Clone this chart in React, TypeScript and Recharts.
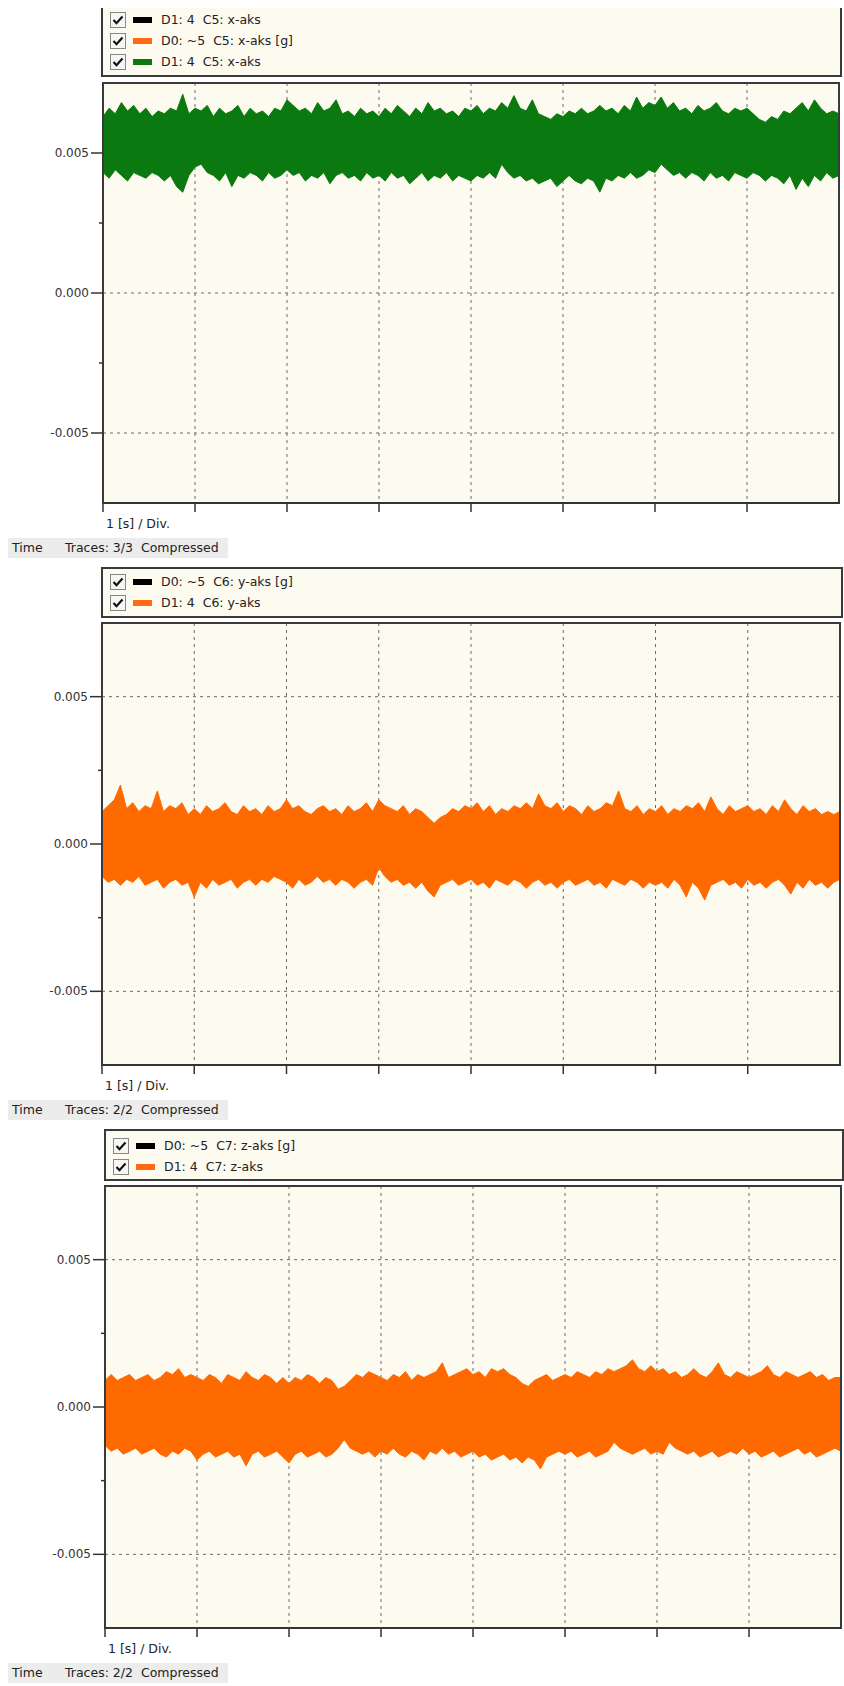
import React from "react"
import {
  Area,
  CartesianGrid,
  ComposedChart,
  ReferenceArea,
  XAxis,
  YAxis,
} from "recharts"

// 8 divisions of 1 s, compressed trace kept as a min/max envelope, 15 buckets per division
const SAMPLES_PER_DIV = 15
const X_TICKS = [0, 1, 2, 3, 4, 5, 6, 7]
const Y_TICKS = [-5, -2.5, 0, 2.5, 5] // mg
const Y_GRID = [-5, 0, 5]

// x-aks (mg)
const xHi = [
  6.3, 6.6, 6.4, 6.8, 6.5, 6.7, 6.4, 6.6, 6.3, 6.5, 6.4, 6.6, 6.5, 7.1, 6.4,
  6.6, 6.5, 6.7, 6.3, 6.6, 6.4, 6.5, 6.7, 6.3, 6.6, 6.4, 6.5, 6.3, 6.6, 6.5,
  6.9, 6.7, 6.5, 6.6, 6.4, 6.8, 6.5, 6.6, 6.9, 6.4, 6.5, 6.3, 6.6, 6.4, 6.5,
  6.3, 6.6, 6.4, 6.7, 6.5, 6.3, 6.6, 6.4, 6.8, 6.5, 6.6, 6.4, 6.5, 6.3, 6.6,
  6.5, 6.7, 6.4, 6.6, 6.5, 6.8, 6.6, 7.05, 6.6, 6.5, 6.9, 6.4, 6.3, 6.2, 6.4,
  6.3, 6.5, 6.4, 6.6, 6.4, 6.5, 6.7, 6.5, 6.6, 6.4, 6.7, 6.5, 7.0, 6.6, 6.8,
  6.7, 7.0, 6.6, 6.8, 6.5, 6.6, 6.4, 6.7, 6.5, 6.6, 6.8, 6.5, 6.4, 6.6, 6.5,
  6.6, 6.4, 6.2, 6.1, 6.3, 6.2, 6.5, 6.4, 6.6, 6.8, 6.5, 6.9, 6.6, 6.4, 6.5,
  6.4,
]
const xLo = [
  4.3, 4.1, 4.4, 4.2, 4.0, 4.3, 4.2, 4.1, 4.3, 4.2, 4.0, 4.2, 3.8, 3.6, 4.2,
  4.5, 4.6, 4.3, 4.2, 4.0, 4.3, 3.8, 4.2, 4.1, 4.3, 4.2, 4.0, 4.3, 4.1, 4.2,
  4.4, 4.2, 4.3, 4.0, 4.2, 4.1, 4.3, 3.9, 4.2, 4.3, 4.1, 4.2, 4.0, 4.3, 4.1,
  4.2, 4.0, 4.3, 4.1, 4.2, 3.9, 4.1, 4.3, 4.0, 4.2, 4.1, 4.3, 4.0, 4.2, 4.1,
  4.0, 4.2, 4.1, 4.3, 4.1, 4.6, 4.3, 4.1, 4.2, 4.0, 4.1, 3.9, 4.0, 4.1, 3.8,
  4.0, 4.2, 4.0, 3.9, 4.1, 4.0, 3.6, 4.1, 4.0, 4.2, 4.1, 4.3, 4.1, 4.2, 4.4,
  4.3, 4.6, 4.4, 4.2, 4.3, 4.1, 4.3, 4.2, 4.0, 4.3, 4.1, 4.2, 4.0, 4.3, 4.2,
  4.1, 4.3, 4.2, 4.0, 4.2, 4.1, 3.9, 4.2, 3.7, 4.1, 3.8, 4.2, 4.0, 4.3, 4.1,
  4.2,
]

// y-aks (mg)
const yHi = [
  1.1, 1.3, 1.5, 2.0, 1.2, 1.4, 1.1, 1.3, 1.2, 1.8, 1.1, 1.3, 1.2, 1.4, 1.0,
  1.2, 1.0, 1.3, 1.1, 1.2, 1.4, 1.1, 1.0, 1.3, 1.1, 1.2, 1.0, 1.3, 1.1, 1.2,
  1.5, 1.2, 1.3, 1.1, 1.0, 1.2, 1.3, 1.1, 1.2, 1.0, 1.3, 1.1, 1.2, 1.4, 1.1,
  1.5, 1.3, 1.2, 1.1, 1.3, 1.0, 1.2, 1.1, 0.9, 0.7, 0.9, 1.0, 1.2, 1.1, 1.3,
  1.2, 1.4, 1.1, 1.3, 1.0, 1.2, 1.1, 1.3, 1.2, 1.4, 1.2, 1.7, 1.3, 1.2, 1.4,
  1.1, 1.3, 1.2, 1.0, 1.3, 1.1, 1.2, 1.4, 1.3, 1.8, 1.2, 1.1, 1.3, 1.0, 1.2,
  1.1, 1.3, 1.0, 1.2, 1.1, 1.3, 1.2, 1.4, 1.1, 1.6, 1.2, 1.0, 1.3, 1.1, 1.2,
  1.3, 1.1, 1.2, 1.0, 1.3, 1.1, 1.5, 1.2, 1.0, 1.3, 1.1, 1.2, 1.0, 1.1, 1.0,
  1.1,
]
const yLo = [
  -1.1, -1.3, -1.2, -1.4, -1.2, -1.3, -1.1, -1.4, -1.3, -1.2, -1.5, -1.3, -1.2, -1.4, -1.3,
  -1.8, -1.3, -1.5, -1.2, -1.4, -1.3, -1.2, -1.5, -1.3, -1.2, -1.4, -1.2, -1.3, -1.1, -1.2,
  -1.3, -1.5, -1.2, -1.4, -1.3, -1.1, -1.3, -1.2, -1.4, -1.2, -1.3, -1.5, -1.3, -1.2, -1.4,
  -0.8, -1.1, -1.3, -1.2, -1.4, -1.3, -1.5, -1.3, -1.6, -1.8, -1.4, -1.3, -1.2, -1.4, -1.3,
  -1.2, -1.4, -1.3, -1.5, -1.2, -1.3, -1.4, -1.2, -1.3, -1.5, -1.3, -1.2, -1.4, -1.3, -1.5,
  -1.3, -1.2, -1.4, -1.3, -1.2, -1.4, -1.3, -1.5, -1.2, -1.3, -1.4, -1.2, -1.3, -1.5, -1.3,
  -1.4, -1.3, -1.5, -1.2, -1.4, -1.8, -1.3, -1.5, -1.9, -1.4, -1.3, -1.2, -1.4, -1.3, -1.5,
  -1.2, -1.4, -1.3, -1.5, -1.3, -1.2, -1.4, -1.7, -1.3, -1.5, -1.2, -1.4, -1.3, -1.5, -1.3,
  -1.2,
]

// z-aks (mg)
const zHi = [
  0.9, 1.1, 0.9, 1.0, 1.1, 0.9, 1.0, 1.1, 0.9, 1.0, 1.2, 1.1, 1.3, 1.0, 1.1,
  1.0, 0.9, 1.1, 1.0, 0.8, 1.1, 1.0, 0.9, 1.2, 1.0, 0.9, 1.1, 1.0, 0.8, 1.0,
  0.8, 1.0, 0.9, 1.1, 1.0, 0.8, 1.0, 0.9, 0.6, 0.7, 0.9, 1.1, 1.0, 1.2, 1.1,
  1.0, 0.9, 1.1, 1.0, 1.2, 0.9, 1.1, 1.0, 1.1, 1.2, 1.5, 1.0, 1.1, 1.2, 1.3,
  1.1, 1.2, 1.0, 1.3, 1.2, 1.3, 1.1, 1.0, 0.8, 0.7, 0.9, 1.0, 1.1, 0.9, 1.0,
  1.1, 1.0, 1.2, 1.1, 1.0, 1.2, 1.1, 1.3, 1.2, 1.3, 1.4, 1.6, 1.3, 1.2, 1.4,
  1.2, 1.3, 1.1, 1.2, 1.0, 1.1, 1.3, 1.1, 1.0, 1.2, 1.5, 1.1, 1.0, 1.2, 1.1,
  1.0, 1.1, 1.2, 1.4, 1.1, 1.0, 1.2, 1.1, 1.0, 1.1, 1.2, 1.0, 1.1, 0.9, 1.0,
  1.0,
]
const zLo = [
  -1.3, -1.5, -1.4, -1.6, -1.5, -1.4, -1.6, -1.5, -1.4, -1.6, -1.7, -1.5, -1.6, -1.4, -1.5,
  -1.8, -1.6, -1.5, -1.7, -1.6, -1.5, -1.7, -1.6, -2.0, -1.6, -1.5, -1.7, -1.6, -1.5, -1.7,
  -1.9, -1.6, -1.5, -1.7, -1.6, -1.5, -1.7, -1.6, -1.4, -1.1, -1.4, -1.5, -1.6, -1.5, -1.7,
  -1.5, -1.6, -1.4, -1.6, -1.7, -1.5, -1.6, -1.8, -1.5, -1.6, -1.4, -1.6, -1.5, -1.7, -1.6,
  -1.5, -1.7, -1.6, -1.8, -1.7, -1.6, -1.8, -1.7, -1.9, -1.7, -1.8, -2.1, -1.7, -1.6, -1.5,
  -1.6, -1.5, -1.7, -1.6, -1.5, -1.7, -1.6, -1.5, -1.2, -1.4, -1.5, -1.6, -1.5, -1.4, -1.6,
  -1.5, -1.6, -1.2, -1.4, -1.5, -1.6, -1.5, -1.7, -1.6, -1.5, -1.7, -1.6, -1.5, -1.6, -1.4,
  -1.6, -1.5, -1.7, -1.6, -1.5, -1.7, -1.6, -1.5, -1.4, -1.6, -1.5, -1.7, -1.6, -1.5, -1.4,
  -1.5,
]

const xLegend = [
  { color: "#000000", label: "D1: 4  C5: x-aks" },
  { color: "#ff6a13", label: "D0: ~5  C5: x-aks [g]" },
  { color: "#0a7a10", label: "D1: 4  C5: x-aks" },
]
const yLegend = [
  { color: "#000000", label: "D0: ~5  C6: y-aks [g]" },
  { color: "#ff6a13", label: "D1: 4  C6: y-aks" },
]
const zLegend = [
  { color: "#000000", label: "D0: ~5  C7: z-aks [g]" },
  { color: "#ff6a13", label: "D1: 4  C7: z-aks" },
]

const W = 844
const H = 1686
const CREAM = "#fdfaf0"
const FRAME = "#3a3a3a"
const FONT = '"DejaVu Sans", sans-serif'

const panels = [
  {
    hi: xHi, lo: xLo, color: "#0a7a10", legend: xLegend, traces: "Traces: 3/3  Compressed",
    plot: { left: 103, top: 83, right: 839, bottom: 503 },
    box: { left: 102, top: 9, right: 839, bottom: 76, open: true },
    rowTop: 20,
  },
  {
    hi: yHi, lo: yLo, color: "#ff6a00", legend: yLegend, traces: "Traces: 2/2  Compressed",
    plot: { left: 102, top: 623, right: 840, bottom: 1065 },
    box: { left: 102, top: 568, right: 840, bottom: 615, open: false },
    rowTop: 582,
  },
  {
    hi: zHi, lo: zLo, color: "#ff6a00", legend: zLegend, traces: "Traces: 2/2  Compressed",
    plot: { left: 105, top: 1186, right: 841, bottom: 1628 },
    box: { left: 105, top: 1130, right: 841, bottom: 1178, open: false },
    rowTop: 1146,
  },
]

function YTick(props: any) {
  const { x, y, payload } = props
  const v = payload.value
  const major = v % 5 === 0
  return (
    <g>
      <line x1={x - (major ? 12 : 4)} x2={x} y1={y} y2={y} stroke="#333" strokeWidth={1.5} />
      {major && (
        <text x={x - 14} y={y} dy={4} textAnchor="end" fontSize={12} fontFamily={FONT} fill="#333">
          {(v / 1000).toFixed(3)}
        </text>
      )}
    </g>
  )
}

function CheckBox() {
  return (
    <svg width={16} height={16} style={{ position: "absolute", left: 0, top: -8 }}>
      <rect x={0.5} y={0.5} width={15} height={15} fill="#f6f6f6" stroke="#888" />
      <path d="M3.5 8 L6.5 11.2 L12.5 4.5" fill="none" stroke="#111" strokeWidth={2.2} />
    </svg>
  )
}

function Panel({ p }: { p: any }) {
  const data = p.hi.map((h: number, i: number) => ({
    t: i / SAMPLES_PER_DIV,
    band: [p.lo[i], h],
  }))
  const plotH = p.plot.bottom - p.plot.top
  const b = p.box
  return (
    <>
      <div
        style={{
          position: "absolute",
          left: b.left - 1,
          top: b.top - 1,
          width: b.right - b.left,
          height: b.bottom - b.top,
          background: CREAM,
          border: `2px solid ${FRAME}`,
          borderTop: b.open ? "none" : `2px solid ${FRAME}`,
        }}
      />
      {p.legend.map((item: any, i: number) => (
        <div
          key={i}
          style={{ position: "absolute", left: b.left + 8, top: p.rowTop + i * 21, height: 0 }}
        >
          <CheckBox />
          <div
            style={{
              position: "absolute", left: 23, top: -3, width: 19, height: 6, background: item.color,
            }}
          />
          <div
            style={{
              position: "absolute", left: 51, top: -8, fontSize: 12.5, lineHeight: "16px",
              whiteSpace: "pre", color: "#222",
            }}
          >
            {item.label}
          </div>
        </div>
      ))}
      <div style={{ position: "absolute", left: 0, top: p.plot.top - 10 }}>
        <ComposedChart
          width={W}
          height={plotH + 40}
          data={data}
          margin={{ top: 10, right: W - p.plot.right, bottom: 0, left: p.plot.left - 60 }}
        >
          <CartesianGrid
            fill={CREAM}
            stroke="#6a6a6a"
            strokeDasharray="3 4"
            horizontalValues={Y_GRID}
          />
          <XAxis
            dataKey="t"
            type="number"
            domain={[0, 8]}
            ticks={X_TICKS}
            interval={0}
            height={30}
            axisLine={{ stroke: "#333", strokeWidth: 2 }}
            tickLine={{ stroke: "#333", strokeWidth: 1.5 }}
            tickSize={9}
            tick={() => <g />}
          />
          <YAxis
            type="number"
            domain={[-7.5, 7.5]}
            ticks={Y_TICKS}
            interval={0}
            width={60}
            axisLine={false}
            tickLine={false}
            tickSize={0}
            tickMargin={0}
            tick={YTick}
          />
          <Area
            dataKey="band"
            type="linear"
            stroke={p.color}
            strokeWidth={1}
            fill={p.color}
            fillOpacity={1}
            dot={false}
            activeDot={false}
            isAnimationActive={false}
          />
          <ReferenceArea
            x1={0}
            x2={8}
            y1={-7.5}
            y2={7.5}
            fill="none"
            stroke={FRAME}
            strokeWidth={2}
          />
        </ComposedChart>
      </div>
      <div
        style={{
          position: "absolute", left: p.plot.left + 3, top: p.plot.bottom + 13,
          fontSize: 12.5, color: "#222",
        }}
      >
        1 [s] / Div.
      </div>
      <div
        style={{
          position: "absolute", left: 8, top: p.plot.bottom + 35, width: 220, height: 20,
          background: "#ececec",
        }}
      />
      <div style={{ position: "absolute", left: 12, top: p.plot.bottom + 37, fontSize: 12.5, color: "#222" }}>
        Time
      </div>
      <div
        style={{
          position: "absolute", left: 65, top: p.plot.bottom + 37, fontSize: 12.5, color: "#222",
          whiteSpace: "pre",
        }}
      >
        {p.traces}
      </div>
    </>
  )
}

export default function App() {
  return (
    <div
      style={{
        position: "absolute", left: 0, top: 0, width: W, height: H, background: "#fff",
        fontFamily: FONT, overflow: "hidden",
      }}
    >
      {panels.map((p, i) => (
        <Panel key={i} p={p} />
      ))}
    </div>
  )
}
